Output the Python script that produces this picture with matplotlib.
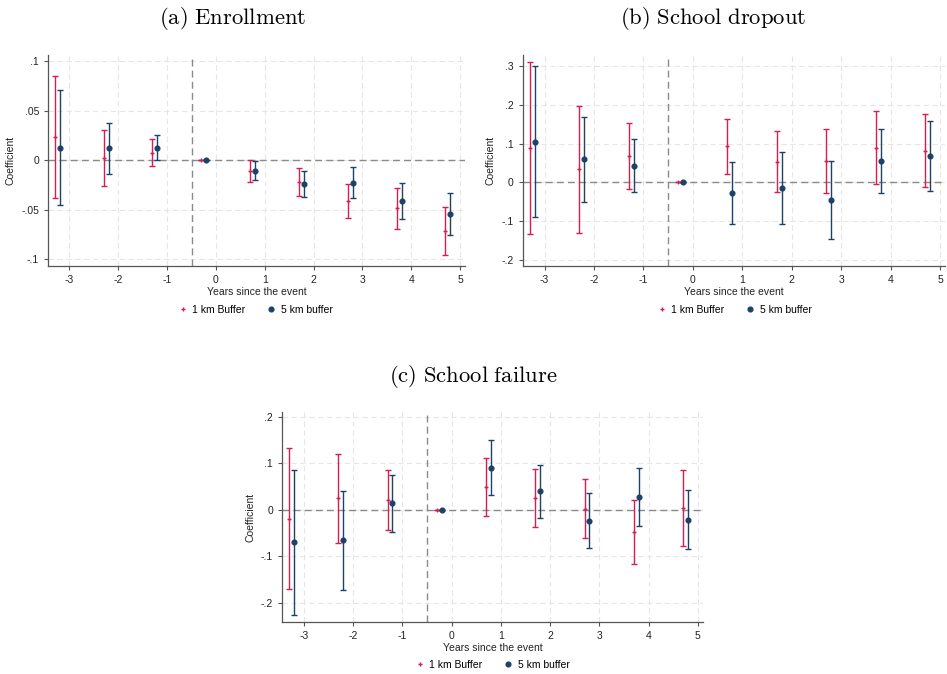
import matplotlib.pyplot as plt
import numpy as np
from matplotlib.lines import Line2D

plt.rcParams['font.family'] = ['Liberation Sans', 'DejaVu Sans']
plt.rcParams['mathtext.fontset'] = 'cm'

years = [-3, -2, -1, 0, 1, 2, 3, 4, 5]

# (a) Enrollment
enr_1km = [0.0236, 0.0024, 0.0077, 0.0, -0.011, -0.022, -0.041, -0.0485, -0.0717]
enr_1km_lo = [-0.0377, -0.026, -0.0054, 0.0, -0.022, -0.036, -0.058, -0.069, -0.096]
enr_1km_hi = [0.085, 0.031, 0.021, 0.0, 0.0, -0.008, -0.0236, -0.0276, -0.047]
enr_5km = [0.0128, 0.0125, 0.0125, 0.0, -0.0108, -0.0236, -0.0226, -0.041, -0.054]
enr_5km_lo = [-0.0455, -0.014, 0.0, 0.0, -0.020, -0.0367, -0.0384, -0.0596, -0.0758]
enr_5km_hi = [0.0714, 0.038, 0.025, 0.0, -0.001, -0.011, -0.0064, -0.0226, -0.0327]

# (b) School dropout
drop_1km = [0.089, 0.034, 0.068, 0.0, 0.093, 0.053, 0.056, 0.089, 0.081]
drop_1km_lo = [-0.134, -0.131, -0.017, 0.0, 0.0216, -0.026, -0.027, -0.004, -0.013]
drop_1km_hi = [0.311, 0.197, 0.153, 0.0, 0.164, 0.132, 0.138, 0.184, 0.176]
drop_5km = [0.104, 0.059, 0.043, 0.0, -0.028, -0.014, -0.047, 0.055, 0.067]
drop_5km_lo = [-0.090, -0.052, -0.025, 0.0, -0.109, -0.107, -0.147, -0.027, -0.023]
drop_5km_hi = [0.300, 0.168, 0.111, 0.0, 0.051, 0.079, 0.054, 0.137, 0.158]

# (c) School failure
fail_1km = [-0.019, 0.0245, 0.0216, 0.0, 0.049, 0.026, 0.002, -0.0475, 0.0043]
fail_1km_lo = [-0.171, -0.072, -0.044, 0.0, -0.0137, -0.037, -0.061, -0.1165, -0.078]
fail_1km_hi = [0.132, 0.120, 0.085, 0.0, 0.1115, 0.088, 0.066, 0.0216, 0.0863]
fail_5km = [-0.0705, -0.066, 0.0137, 0.0, 0.0906, 0.0396, -0.0237, 0.028, -0.0216]
fail_5km_lo = [-0.227, -0.173, -0.048, 0.0, 0.031, -0.018, -0.083, -0.036, -0.0856]
fail_5km_hi = [0.086, 0.040, 0.074, 0.0, 0.150, 0.096, 0.036, 0.091, 0.0424]

red = '#d81e50'
navy = '#1c4268'


def panel(ax, title, title_xy, c1, lo1, hi1, c5, lo5, hi5, yticks, ylabels, ylim, leg_xy):
    x = np.array(years, dtype=float)
    c1, lo1, hi1 = np.array(c1), np.array(lo1), np.array(hi1)
    c5, lo5, hi5 = np.array(c5), np.array(lo5), np.array(hi5)
    ax.errorbar(x - 0.3, c1, yerr=[c1 - lo1, hi1 - c1], fmt='+', color=red,
                ms=3.5, mew=1.0, elinewidth=1.0, capsize=2.2, capthick=1.0, zorder=3)
    ax.errorbar(x - 0.2, c5, yerr=[c5 - lo5, hi5 - c5], fmt='o', color=navy,
                ms=3.4, elinewidth=1.0, capsize=2.2, capthick=1.0, zorder=3)
    ax.axhline(0, color='#8a8a8a', lw=1.0, ls=(0, (5, 3)), zorder=2)
    ax.axvline(-0.5, color='#8a8a8a', lw=1.0, ls=(0, (5, 3)), zorder=2)
    ax.set_xlim(-3.44, 5.1)
    ax.set_ylim(*ylim)
    ax.set_xticks(years)
    ax.set_xticklabels([str(v) for v in years])
    ax.set_yticks(yticks)
    ax.set_yticklabels(ylabels)
    ax.grid(True, color='#e6e6e6', lw=0.8, ls=(0, (5, 3)), zorder=0)
    ax.set_axisbelow(True)
    for s in ['top', 'right']:
        ax.spines[s].set_visible(False)
    for s in ['left', 'bottom']:
        ax.spines[s].set_color('#555555')
        ax.spines[s].set_linewidth(0.9)
    ax.tick_params(labelsize=7.5, length=3, color='#555555', labelcolor='#222222')
    ax.set_xlabel('Years since the event', fontsize=7.5, labelpad=1, color='#222222')
    ax.set_ylabel('Coefficient', fontsize=7.5, labelpad=4, color='#222222')
    fig.text(title_xy[0], title_xy[1], title, fontsize=16.3, ha='center', va='center')
    handles = [Line2D([], [], ls='none', marker='+', color=red, ms=3.5, mew=1.0),
               Line2D([], [], ls='none', marker='o', color=navy, ms=3.4)]
    fig.legend(handles, ['1 km Buffer', '5 km buffer'], loc='center',
               bbox_to_anchor=leg_xy, ncol=2, frameon=False, fontsize=7.5,
               handlelength=1.0, columnspacing=2.0, handletextpad=0.4)


fig = plt.figure(figsize=(9.47, 6.74), dpi=100)
ax1 = fig.add_axes([0.0507, 0.605, 0.4403, 0.313])
ax2 = fig.add_axes([0.552, 0.605, 0.446, 0.313])
ax3 = fig.add_axes([0.298, 0.077, 0.444, 0.312])

panel(ax1, r'$\mathrm{(a)\ Enrollment}$', (233 / 947, 1 - 19 / 674),
      enr_1km, enr_1km_lo, enr_1km_hi, enr_5km, enr_5km_lo, enr_5km_hi,
      [-0.1, -0.05, 0, 0.05, 0.1], ['-.1', '-.05', '0', '.05', '.1'], (-0.107, 0.106),
      (255 / 947, 1 - 310 / 674))
panel(ax2, r'$\mathrm{(b)\ School\ dropout}$', (713 / 947, 1 - 19 / 674),
      drop_1km, drop_1km_lo, drop_1km_hi, drop_5km, drop_5km_lo, drop_5km_hi,
      [-0.2, -0.1, 0, 0.1, 0.2, 0.3], ['-.2', '-.1', '0', '.1', '.2', '.3'], (-0.217, 0.328),
      (734 / 947, 1 - 310 / 674))
panel(ax3, r'$\mathrm{(c)\ School\ failure}$', (473 / 947, 1 - 376 / 674),
      fail_1km, fail_1km_lo, fail_1km_hi, fail_5km, fail_5km_lo, fail_5km_hi,
      [-0.2, -0.1, 0, 0.1, 0.2], ['-.2', '-.1', '0', '.1', '.2'], (-0.242, 0.211),
      (492 / 947, 1 - 665 / 674))

plt.savefig('out.png', dpi=100)
